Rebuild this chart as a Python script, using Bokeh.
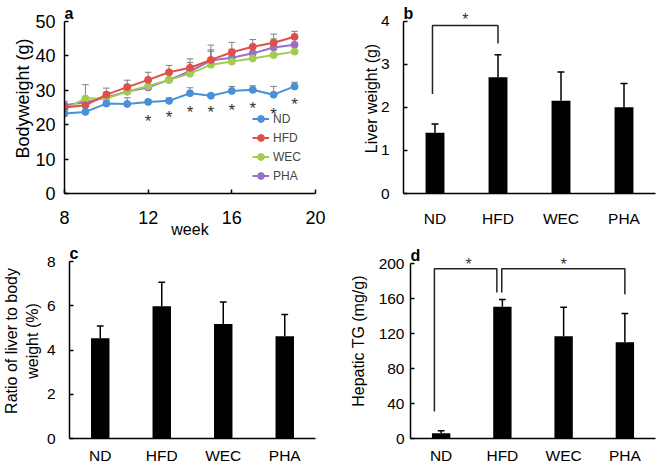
from bokeh.plotting import figure
from bokeh.layouts import row, column
from bokeh.models import FixedTicker, Legend, LegendItem, Range1d
from bokeh.core.properties import value
from bokeh.embed import file_html
from bokeh.resources import INLINE

FONT = "Liberation Sans"

# ---------------- data ----------------
weeks = [8, 9, 10, 11, 12, 13, 14, 15, 16, 17, 18, 19]
bw_nd = [23.2, 23.7, 26.1, 26.0, 26.6, 26.9, 29.1, 28.4, 29.8, 30.1, 28.7, 31.1]
bw_hfd = [25.0, 25.6, 28.7, 30.9, 33.0, 35.2, 36.5, 38.8, 41.0, 42.6, 43.8, 45.5]
bw_wec = [24.4, 27.6, 27.6, 29.6, 31.2, 33.0, 34.8, 37.4, 38.3, 39.2, 40.2, 41.2]
bw_pha = [25.6, 26.5, 27.9, 29.6, 30.8, 33.0, 35.5, 38.6, 39.4, 40.7, 42.4, 43.2]
sd_nd = [0.6, 0.7, 0.8, 1.8, 0.6, 0.8, 1.6, 0.6, 1.3, 1.2, 2.4, 1.2]
sd_hfd = [1.0, 1.0, 1.9, 2.0, 2.2, 2.0, 2.6, 2.5, 2.9, 2.1, 2.5, 1.6]
sd_wec = [1.0, 4.0, 1.8, 1.8, 2.0, 1.8, 2.0, 4.3, 2.5, 2.0, 2.0, 1.5]
sd_pha = [1.2, 1.5, 1.5, 2.0, 2.0, 1.8, 2.5, 4.5, 2.5, 2.0, 2.5, 1.8]
star_weeks = [12, 13, 14, 15, 16, 17, 18, 19]
star_y = [22.0, 23.2, 24.7, 24.7, 25.2, 25.8, 24.2, 27.0]

groups = ["ND", "HFD", "WEC", "PHA"]
liver = [1.41, 2.70, 2.15, 2.00]
liver_sd = [0.20, 0.52, 0.67, 0.55]
ratio = [4.53, 5.98, 5.17, 4.62]
ratio_sd = [0.56, 1.08, 1.00, 0.98]
tg = [6.1, 150.7, 117.0, 110.0]
tg_sd = [2.7, 8.3, 33.0, 33.0]

# significance brackets: (x_left, x_right, y_left_bottom, y_top, y_right_bottom)
bracket_b = [(0.96, 2.0, 2.31, 3.90, 3.48)]
star_b = [(1.48, 4.14)]
bracket_d = [(0.89, 1.91, 31.0, 194.0, 167.0), (1.99, 4.0, 167.0, 194.0, 165.0)]
star_d = [(1.45, 203.4), (3.0, 203.4)]

series_names = ["ND", "HFD", "WEC", "PHA"]
series_vals = [bw_nd, bw_hfd, bw_wec, bw_pha]
series_sd = [sd_nd, sd_hfd, sd_wec, sd_pha]
series_colors = ["#4A90D8", "#E0504A", "#A2CC50", "#9B6FC8"]

pos = [1, 2, 3, 4]


def style(p, tick_size="15.5px", label_size="16px"):
    p.outline_line_color = None
    p.grid.visible = False
    p.background_fill_color = "white"
    p.border_fill_color = "white"
    for ax in p.axis:
        ax.axis_line_width = 1.5
        ax.axis_line_color = "black"
        ax.major_tick_in = 4
        ax.major_tick_out = 0
        ax.major_tick_line_width = 1.5
        ax.major_tick_line_color = "black"
        ax.minor_tick_line_color = None
        ax.major_label_text_font = FONT
        ax.major_label_text_font_size = tick_size
        ax.major_label_text_color = "black"
        ax.axis_label_text_font = FONT
        ax.axis_label_text_font_size = label_size
        ax.axis_label_text_font_style = "normal"
        ax.axis_label_text_color = "black"


def panel_letter(p, x, y, t):
    p.text(x=[x], y=[y], text=[t], text_font=value(FONT), text_font_size="16px",
           text_font_style="bold", text_align="left", text_baseline="alphabetic",
           text_color="black")


def padded(ymax, axis_px, frame_px):
    # extend the visible range above the axis so annotations above it are not clipped
    return Range1d(0, ymax * frame_px / axis_px)


# ---------------- panel a ----------------
pa = figure(output_backend="svg", toolbar_location=None, width=330, height=240,
            min_border_left=64, min_border_right=15, min_border_top=3, min_border_bottom=45,
            x_range=Range1d(8, 20), y_range=padded(50, 174, 192))
style(pa, tick_size="18px", label_size="18px")
pa.xaxis.ticker = FixedTicker(ticks=[8, 12, 16, 20])
pa.yaxis.ticker = FixedTicker(ticks=[0, 10, 20, 30, 40, 50])
pa.yaxis.bounds = (0, 50)
pa.yaxis.axis_label = "Bodyweight (g)"
pa.yaxis.major_label_standoff = 9
pa.yaxis.axis_label_standoff = -1
pa.xaxis.axis_label = "week"
pa.xaxis.axis_label_text_font_size = "16px"
pa.xaxis.major_label_standoff = 17
pa.xaxis.axis_label_standoff = -6

for name, vals, sd, col in zip(series_names, series_vals, series_sd, series_colors):
    tops = [v + s for v, s in zip(vals, sd)]
    pa.segment(x0=weeks, y0=vals, x1=weeks, y1=tops, line_color="#808080", line_width=1)
    pa.segment(x0=[w - 0.16 for w in weeks], y0=tops, x1=[w + 0.16 for w in weeks], y1=tops,
               line_color="#808080", line_width=1)
renders = {}
for name, vals, col in list(zip(series_names, series_vals, series_colors))[::-1]:
    ln = pa.line(weeks, vals, line_color=col, line_width=2)
    sc = pa.scatter(weeks, vals, size=7, fill_color=col, line_color=col)
    renders[name] = [ln, sc]
items = [LegendItem(label=name, renderers=renders[name]) for name in series_names]
leg = Legend(items=items, location=(188, 8), glyph_width=17, glyph_height=19,
             label_height=19, spacing=0, padding=0, margin=0, label_standoff=4,
             label_text_font=FONT, label_text_font_size="12px",
             border_line_color=None, background_fill_alpha=0)
pa.add_layout(leg)
pa.text(x=star_weeks, y=star_y, text=["*"] * len(star_weeks), text_font=value(FONT),
        text_font_size="17px", text_align="center", text_baseline="middle",
        text_color="#333333", y_offset=4)
panel_letter(pa, 8, 52.3, "a")


# ---------------- bar panels ----------------
def bar_panel(vals, sd, ymax, axis_px, yticks, ylabel, w, h, left, right, top, bottom,
              tick_std, lab_std, xstd):
    frame_px = h - top - bottom
    p = figure(output_backend="svg", toolbar_location=None, width=w, height=h,
               min_border_left=left, min_border_right=right,
               min_border_top=top, min_border_bottom=bottom,
               x_range=Range1d(0.5, 4.5), y_range=padded(ymax, axis_px, frame_px))
    style(p)
    p.xaxis.ticker = FixedTicker(ticks=pos)
    p.xaxis.major_label_overrides = {k: g for k, g in zip(pos, groups)}
    p.xaxis.major_tick_in = 0
    p.xaxis.major_label_standoff = xstd
    p.yaxis.ticker = FixedTicker(ticks=yticks)
    p.yaxis.bounds = (0, ymax)
    p.yaxis.axis_label = ylabel
    p.yaxis.major_label_standoff = tick_std
    p.yaxis.axis_label_standoff = lab_std
    tops = [v + s for v, s in zip(vals, sd)]
    p.segment(x0=pos, y0=vals, x1=pos, y1=tops, line_color="black", line_width=1.5)
    p.segment(x0=[x - 0.055 for x in pos], y0=tops, x1=[x + 0.055 for x in pos], y1=tops,
              line_color="black", line_width=1.5)
    p.vbar(x=pos, top=vals, bottom=0, width=0.3, fill_color="black", line_color=None)
    return p


def add_brackets(p, brackets, stars):
    for (xl, xr, yl, yt, yr) in brackets:
        p.line([xl, xl, xr, xr], [yl, yt, yt, yr], line_color="#222222", line_width=1.5)
    p.text(x=[s[0] for s in stars], y=[s[1] for s in stars], text=["*"] * len(stars),
           text_font=value(FONT), text_font_size="16px", text_align="center",
           text_baseline="middle", text_color="#333333", y_offset=4)


pb = bar_panel(liver, liver_sd, 4, 176, [0, 1, 2, 3, 4], "Liver weight (g)",
               328, 240, 73, 3, 3, 43, 14, -2, 16)
add_brackets(pb, bracket_b, star_b)
panel_letter(pb, 0.5, 4.18, "b")

pc = bar_panel(ratio, ratio_sd, 8, 177, [0, 2, 4, 6, 8], "Ratio of liver to body\nweight (%)",
               330, 228, 63, 15, 3, 30, 14, 3, 8)
panel_letter(pc, 0.5, 8.36, "c")

pd = bar_panel(tg, tg_sd, 200, 175, [0, 40, 80, 120, 160, 200], "Hepatic TG (mg/g)",
               328, 228, 80, 3, 3, 30, 6, 9, 8)
add_brackets(pd, bracket_d, star_d)
panel_letter(pd, 0.5, 209, "d")

layout = column(row(pa, pb), row(pc, pd))
open("out.html", "w").write(file_html(layout, INLINE))
